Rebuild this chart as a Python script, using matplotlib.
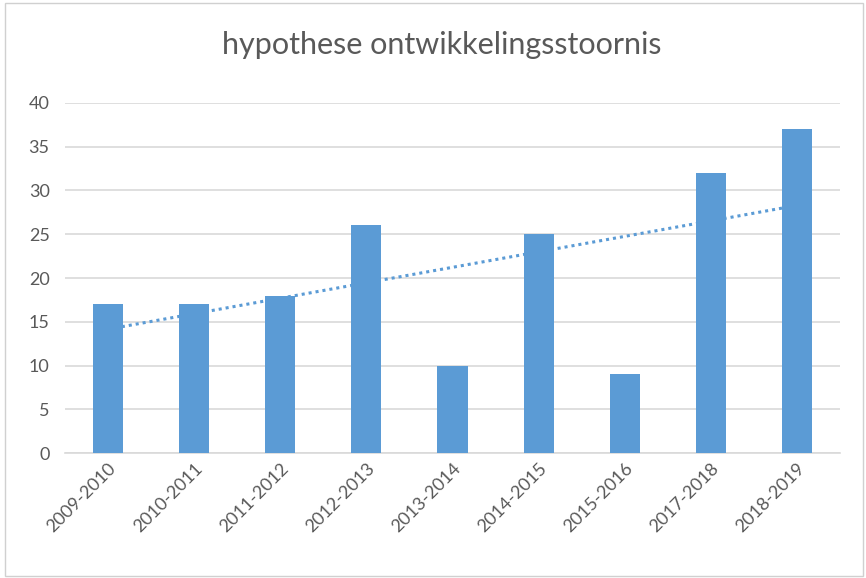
import numpy as np
import matplotlib.pyplot as plt
from matplotlib.patches import Rectangle

plt.rcParams['font.family'] = ['Lato', 'DejaVu Sans']

seasons = ['2009-2010', '2010-2011', '2011-2012', '2012-2013', '2013-2014',
           '2014-2015', '2015-2016', '2017-2018', '2018-2019']
counts = [17, 17, 18, 26, 10, 25, 9, 32, 37]

bar_color = '#5B9BD5'
text_color = '#595959'
grid_color = '#D9D9D9'

fig = plt.figure(figsize=(8.66, 5.78), dpi=100)
ax = fig.add_axes([0.075, 0.216, 0.895, 0.606])

x = np.arange(len(seasons))
ax.bar(x, counts, width=0.35, color=bar_color, zorder=3)

# linear trendline (as in Excel)
slope, intercept = np.polyfit(x, counts, 1)
ax.plot(x, slope * x + intercept, color=bar_color, linestyle=(0, (1, 1.3)),
        linewidth=2.2, zorder=4)

ax.set_xlim(-0.5, len(seasons) - 0.5)
ax.set_ylim(0, 40)
ax.set_yticks(range(0, 41, 5))
ax.yaxis.grid(True, color=grid_color, linewidth=1.2, zorder=0)
ax.set_xticks(x)
ax.set_xticklabels(seasons, rotation=45, ha='right', rotation_mode='anchor')
ax.tick_params(axis='both', length=0, colors=text_color, labelsize=13)
ax.tick_params(axis='y', pad=11)
ax.tick_params(axis='x', pad=5)
for side in ['top', 'right', 'left']:
    ax.spines[side].set_visible(False)
ax.spines['bottom'].set_color(grid_color)
ax.spines['bottom'].set_linewidth(1.2)

fig.text(0.51, 0.922, 'hypothese ontwikkelingsstoornis', ha='center', va='center',
         fontsize=22, color=text_color)

fig.patches.append(Rectangle((0.006, 0.004), 0.99, 0.99, transform=fig.transFigure,
                             fill=False, edgecolor='#D0D0D0', linewidth=1))

fig.savefig('out.png', dpi=100)
